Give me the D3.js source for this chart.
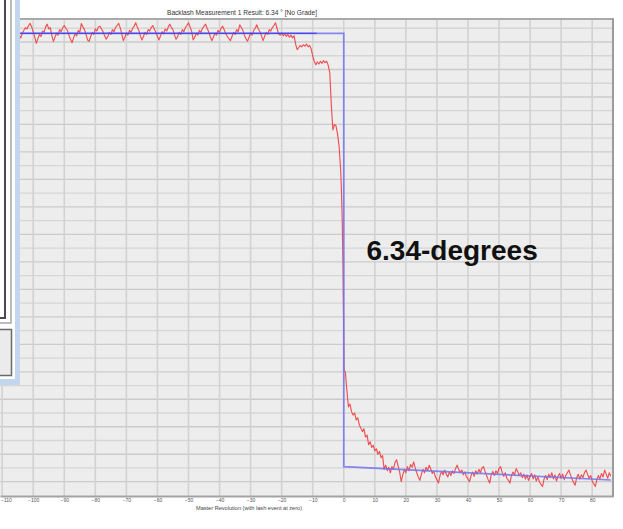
<!DOCTYPE html>
<html><head><meta charset="utf-8">
<script src="https://cdn.jsdelivr.net/npm/d3@7"></script>
<style>body{margin:0;background:#fff;} svg{display:block;font-family:"Liberation Sans",Arial,sans-serif;}</style>
</head><body><svg id="c" width="623" height="529"></svg>
<script>
// ---------- data ----------
const chartTitle = "Backlash Measurement 1 Result: 6.34 \u00b0 [No Grade]";
const xTitle = "Master Revolution (with lash event at zero)";
const annotation = "6.34-degrees";
const xTicks = [-110,-100,-90,-80,-70,-60,-50,-40,-30,-20,-10,0,10,20,30,40,50,60,70,80];
const yGrid = [-3.4,-3.2,-3.0,-2.8,-2.6,-2.4,-2.2,-2.0,-1.8,-1.6,-1.4,-1.2,-1.0,-0.8,-0.6,-0.4,-0.2,0,
               0.2,0.4,0.6,0.8,1.0,1.2,1.4,1.6,1.8,2.0,2.2,2.4,2.6,2.8,3.0,3.2];
const xDomain = [-110.7, 86.7];
const yDomain = [-3.608, 3.335];

// red measured trace: before lash (sampled every 0.5 rev from -110.5)
const redStep = 0.5;
const redTopStart = -110.5;
const redTop = [
 3.15,3.10,3.18,3.22,3.12,3.03,3.08,3.14,3.19,3.16,
 3.23,3.18,3.10,3.06,3.13,3.17,3.21,3.19,3.24,3.27,
 3.22,3.15,3.07,2.98,3.05,3.11,3.08,3.16,3.14,3.22,
 3.26,3.19,3.21,3.09,3.01,3.07,3.13,3.10,3.18,3.15,
 3.21,3.24,3.20,3.17,3.10,3.04,2.99,3.06,3.12,3.09,
 3.17,3.14,3.27,3.22,3.18,3.11,3.03,3.01,3.08,3.14,
 3.11,3.19,3.16,3.22,3.23,3.19,3.15,3.09,3.04,3.08,
 3.14,3.11,3.18,3.15,3.21,3.24,3.27,3.21,3.12,3.02,
 3.07,3.13,3.10,3.17,3.14,3.20,3.23,3.28,3.22,3.17,
 3.09,3.03,3.08,3.14,3.11,3.18,3.16,3.21,3.24,3.19,
 3.14,3.08,3.03,3.09,3.15,3.12,3.19,3.16,3.22,3.26,
 3.21,3.18,3.10,3.04,3.08,3.14,3.11,3.18,3.15,3.21,
 3.24,3.28,3.22,3.16,3.03,3.07,3.13,3.10,3.17,3.14,
 3.20,3.23,3.26,3.20,3.15,3.08,3.02,3.07,3.13,3.10,
 3.17,3.14,3.20,3.23,3.18,3.12,3.08,3.05,3.02,3.08,
 3.14,3.11,3.18,3.15,3.25,3.21,3.17,3.10,3.05,3.01,
 3.07,3.13,3.10,3.17,3.20,3.25,3.19,3.15,3.09,3.02,
 3.08,3.14,3.11,3.18,3.16,3.21,3.24,3.28,3.20,3.12,
 3.10,3.13,3.09,3.12,3.08,3.11,3.07,3.10,3.06,3.09];
// red trace through the lash event
const redDropX = [-15.5,-15,-14.5,-14,-13.5,-13,-12.5,-12,-11.5,-11,-10.5,-10,-9.5,-9,-8.5,-8,-7.5,-7,-6.5,-6,-5.5,-5,-4.5,-4,
  -3.5,-3,-2.5,-2,-1.5,-1,-0.75,-0.5,-0.25,0,0.05,0.1,0.5,1,1.5,2,2.5,3,3.5,4,4.5,5,5.5,6,6.5,7,7.5,8,8.5,9,9.5,10,10.5,11,11.5,12,12.5,13];
const redDropY = [2.97,2.89,2.92,2.95,2.93,2.96,2.94,2.97,2.93,2.95,2.90,2.80,2.72,2.67,2.71,2.68,2.72,2.69,2.73,2.70,2.72,2.66,2.55,2.08,
  1.72,1.80,1.78,1.66,1.48,1.14,0.85,0.40,-0.30,-1.30,-1.60,-1.78,-1.80,-2.07,-2.31,-2.27,-2.38,-2.43,-2.40,-2.50,-2.47,-2.57,-2.62,-2.67,
  -2.63,-2.75,-2.72,-2.86,-2.82,-2.90,-2.87,-2.95,-2.92,-3.00,-2.96,-3.05,-3.02,-3.22];
// red trace after lash (every 0.5 rev from 13.5)
const redBottomStart = 13.5;
const redBottom = [
 -3.16,-3.24,-3.19,-3.27,-3.18,-3.22,-3.12,-3.08,-3.17,-3.26,
 -3.40,-3.30,-3.22,-3.27,-3.18,-3.24,-3.15,-3.19,-3.11,-3.20,
 -3.27,-3.33,-3.38,-3.29,-3.22,-3.27,-3.19,-3.24,-3.16,-3.21,
 -3.28,-3.25,-3.33,-3.37,-3.42,-3.31,-3.25,-3.30,-3.23,-3.29,
 -3.33,-3.26,-3.31,-3.24,-3.28,-3.21,-3.16,-3.22,-3.27,-3.23,
 -3.30,-3.26,-3.33,-3.36,-3.40,-3.31,-3.26,-3.32,-3.24,-3.29,
 -3.22,-3.27,-3.20,-3.18,-3.25,-3.31,-3.37,-3.42,-3.30,-3.25,
 -3.31,-3.24,-3.28,-3.21,-3.18,-3.26,-3.32,-3.27,-3.35,-3.38,
 -3.42,-3.31,-3.26,-3.30,-3.21,-3.25,-3.31,-3.27,-3.34,-3.29,
 -3.36,-3.30,-3.38,-3.32,-3.28,-3.36,-3.30,-3.39,-3.33,-3.40,
 -3.44,-3.47,-3.36,-3.31,-3.37,-3.29,-3.34,-3.27,-3.36,-3.30,
 -3.39,-3.32,-3.28,-3.35,-3.29,-3.37,-3.31,-3.27,-3.23,-3.30,
 -3.36,-3.41,-3.45,-3.34,-3.29,-3.36,-3.30,-3.34,-3.27,-3.23,
 -3.29,-3.35,-3.31,-3.39,-3.43,-3.47,-3.37,-3.31,-3.36,-3.28,
 -3.33,-3.23,-3.29,-3.35,-3.27,-3.32];
// blue ideal lash line
const blueX = [-111, -8.7, 0, 0, 86];
const blueY = [3.127, 3.127, 3.127, -3.181, -3.375];
const blueDarkX = [-111, -8.7];

// ---------- build ----------
const svg = d3.select("#c");
const plot = {left: 0, right: 613, top: 19, bottom: 496};
const x = d3.scaleLinear().domain(xDomain).range([plot.left, plot.right]);
const y = d3.scaleLinear().domain(yDomain).range([plot.bottom, plot.top]);

const redPts = [];
redTop.forEach((v,i) => redPts.push([redTopStart + i*redStep, v]));
redDropX.forEach((u,i) => redPts.push([u, redDropY[i]]));
redBottom.forEach((v,i) => redPts.push([redBottomStart + i*redStep, v]));
const bluePts = blueX.map((u,i) => [u, blueY[i]]);

svg.append("defs").append("clipPath").attr("id","clip")
  .append("rect").attr("x",plot.left).attr("y",plot.top)
  .attr("width",plot.right-plot.left).attr("height",plot.bottom-plot.top);

svg.append("rect").attr("x",plot.left).attr("y",plot.top)
  .attr("width",plot.right-plot.left).attr("height",plot.bottom-plot.top).attr("fill","#ededed");

const grid = svg.append("g").attr("clip-path","url(#clip)");
grid.selectAll("line.h").data(yGrid).join("line").attr("class","h")
  .attr("x1",plot.left).attr("x2",plot.right)
  .attr("y1",d=>y(d)).attr("y2",d=>y(d))
  .attr("stroke",(d,i)=> i%2 ? "#d6d6d6" : "#cbcbcb").attr("stroke-width",1.3);
grid.selectAll("line.v").data(xTicks).join("line").attr("class","v")
  .attr("y1",plot.top).attr("y2",plot.bottom)
  .attr("x1",d=>x(d)).attr("x2",d=>x(d))
  .attr("stroke","#d2d2d2").attr("stroke-width",1.6);

const line = d3.line().x(d=>x(d[0])).y(d=>y(d[1]));
const data = svg.append("g").attr("clip-path","url(#clip)");
data.append("path").attr("d",line(redPts)).attr("fill","none")
  .attr("stroke","#f03a3a").attr("stroke-width",1.15).attr("stroke-opacity",0.88).attr("stroke-linejoin","round");
data.append("path").attr("d",line(bluePts)).attr("fill","none")
  .attr("stroke","#7373f0").attr("stroke-width",1.7).attr("stroke-opacity",0.85);
data.append("path").attr("d",line(blueDarkX.map(u=>[u,blueY[0]]))).attr("fill","none")
  .attr("stroke","#3434ea").attr("stroke-width",1.1);

// borders
svg.append("line").attr("x1",plot.left).attr("x2",plot.right+1).attr("y1",plot.top).attr("y2",plot.top)
  .attr("stroke","#a9a9a9").attr("stroke-width",2);
svg.append("line").attr("x1",plot.right).attr("x2",plot.right).attr("y1",plot.top).attr("y2",plot.bottom+1)
  .attr("stroke","#9c9c9c").attr("stroke-width",2);

// x axis
const ax = svg.append("g").attr("transform",`translate(0,${plot.bottom})`)
  .call(d3.axisBottom(x).tickValues(xTicks).tickSize(0).tickPadding(2.5));
ax.select(".domain").attr("stroke","#a3a3a3").attr("stroke-width",2);
ax.selectAll("text").attr("font-size",5).attr("fill","#555").attr("font-family","Liberation Sans, Arial, sans-serif");
// first label sits at the window edge: keep it inside
ax.selectAll(".tick").filter(d => d === xTicks[0]).select("text")
  .attr("text-anchor","start").attr("x", 0.5 - x(xTicks[0]));

svg.append("text").attr("x",249).attr("y",510).attr("text-anchor","middle")
  .attr("font-size",5.6).attr("fill","#444").text(xTitle);
svg.append("text").attr("x",242).attr("y",15).attr("text-anchor","middle")
  .attr("font-size",6.6).attr("fill","#333").text(chartTitle);

// left side panel (overlapping window)
const pan = svg.append("g");
pan.append("rect").attr("x",0).attr("y",0).attr("width",20).attr("height",385).attr("fill","#c2d6ee");
pan.append("rect").attr("x",0).attr("y",0).attr("width",15).attr("height",379).attr("fill","#ffffff");
pan.append("path").attr("d","M5,0V318H-1").attr("fill","none").attr("stroke","#4a4a4a").attr("stroke-width",2);
pan.append("path").attr("d","M11,0V323H-1").attr("fill","none").attr("stroke","#a8a8a8").attr("stroke-width",1.5);
pan.append("rect").attr("x",-3).attr("y",329.5).attr("width",14.5).attr("height",46)
  .attr("fill","#ebebeb").attr("stroke","#6a6a6a").attr("stroke-width",1.5);

// annotation
svg.append("text").attr("x",366.5).attr("y",259.5).attr("font-size",28).attr("font-weight","bold")
  .attr("fill","#111").text(annotation);
</script></body></html>
